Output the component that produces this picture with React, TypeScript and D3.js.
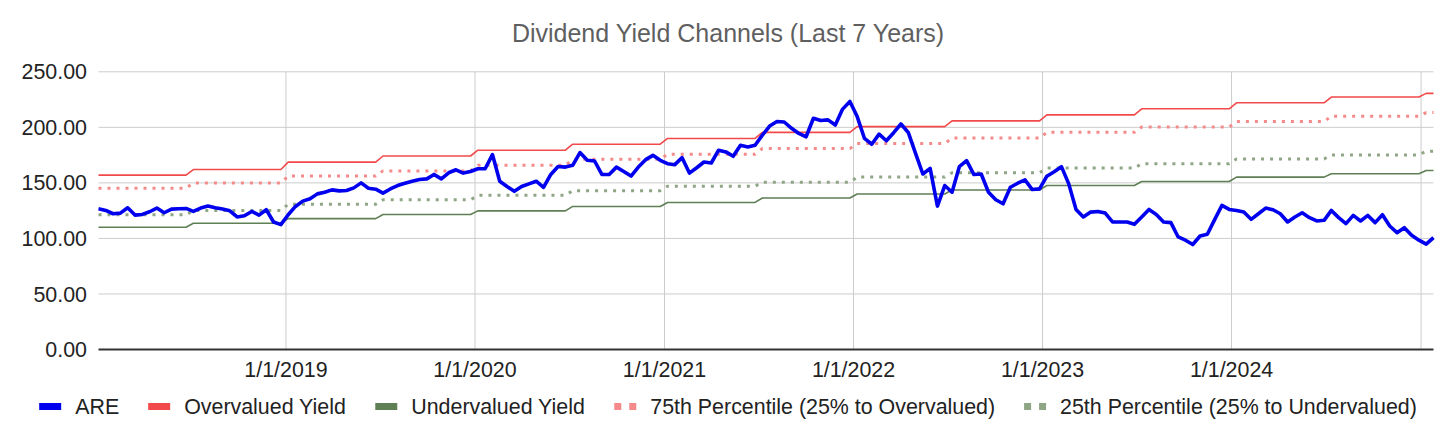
import * as d3 from "d3";

const W = 1456;
const H = 440;
const FONT = "'Liberation Sans', Arial, Helvetica, sans-serif";

// ARE yield series, sampled about every two weeks from early Jan 2018 to late Jan 2025
const firstSample = "2018-01-04";
const lastSample = "2025-01-25";
const areValues = [
  126.7, 125.2, 122.2, 122.8, 127.6, 121, 121.6, 124, 127.3, 123.1,
  126.4, 126.7, 127, 124.3, 127.3, 129.1, 127.6, 126.4, 124.9, 119.3,
  120.4, 124.3, 121, 125.8, 114.8, 112.4, 121.3, 128.8, 133.6, 135.7,
  140.1, 141.6, 143.7, 142.8, 143.1, 145.5, 150, 145.2, 144.3, 140.8,
  144.5, 147.6, 149.7, 151.5, 153, 153.6, 157.6, 153.6, 159.1, 161.8,
  158.8, 160.3, 162.7, 162.7, 175.5, 151.5, 146.7, 142.4, 146.7, 149.1,
  151.5, 146, 157.6, 164.8, 164.2, 165.8, 177.3, 170.3, 169.7, 157.6,
  157.6, 164.2, 160.3, 156.1, 164.2, 170.9, 174.8, 170.3, 167.3, 166.4,
  172.7, 158.8, 163.6, 168.8, 167.9, 179.4, 177.9, 173.9, 183.9, 182.4,
  183.9, 193, 201.2, 205.2, 204.8, 199.1, 194.5, 191.5, 208.2, 206.1,
  206.7, 202.1, 216.4, 223.3, 209.7, 190, 184.8, 193.9, 187.9, 195.2,
  203, 195.4, 176.6, 158, 163.1, 129.1, 147.6, 141.6, 164.6, 170,
  157.5, 158, 141.6, 134.8, 131.2, 146.1, 149.7, 152.7, 144, 144.6,
  156, 160.1, 164.6, 149.1, 126.1, 119.3, 123.7, 124.3, 122.8, 114.8,
  114.8, 114.8, 112.7, 119.3, 126.1, 121.6, 114.8, 114.2, 101.3, 98.4,
  94.5, 102.2, 103.7, 116.9, 129.7, 126.1, 125.2, 123.7, 117.2, 122.2,
  127.3, 125.8, 122.2, 114.8, 119.3, 123.1, 118.7, 115.7, 116.3, 125.2,
  118.7, 113.3, 120.7, 115.7, 120.7, 114.2, 121.3, 111.2, 105.2, 109.7,
  102.8, 98.4, 94.8, 100.7,
];

// half-year channel levels (dividend steps)
const periodStarts = [
  "2018-01-01", "2018-07-01", "2019-01-01", "2019-07-01", "2020-01-01",
  "2020-07-01", "2021-01-01", "2021-07-01", "2022-01-01", "2022-07-01",
  "2023-01-01", "2023-07-01", "2024-01-01", "2024-07-01", "2025-01-01",
];
const overvaluedLevels = [157, 162, 168.7, 174.2, 179.4, 184.8, 190, 195.5, 200.6, 205.8, 211.2, 216.7, 222.1, 227.3, 230.6];
const p75Levels = [145.2, 149.8, 156.2, 160.8, 165.8, 171.2, 175.8, 180.9, 185.5, 190.3, 195.5, 200.3, 205.2, 210, 213.3];
const p25Levels = [121.2, 125.1, 130.8, 134.8, 138.8, 143, 147, 150.6, 155.2, 159.1, 163.3, 167.3, 171.5, 175.2, 178.5];
const undervaluedLevels = [110, 113.7, 117.8, 121.5, 124.8, 128.8, 132.4, 136.4, 140, 143.6, 147.6, 151.2, 155.2, 158.2, 161.2];

const yTicks = [0, 50, 100, 150, 200, 250];
const yearGridlines = ["2019-01-01", "2020-01-01", "2021-01-01", "2022-01-01", "2023-01-01", "2024-01-01", "2025-01-01"];
const xTickLabels = ["1/1/2019", "1/1/2020", "1/1/2021", "1/1/2022", "1/1/2023", "1/1/2024"];

const seriesNames = [
  "ARE",
  "Overvalued Yield",
  "Undervalued Yield",
  "75th Percentile (25% to Overvalued)",
  "25th Percentile (25% to Undervalued)",
];
const seriesColors = ["#0000ee", "#f24a4a", "#5f7f55", "#f58a8a", "#8fa686"];
const seriesDotted = [false, false, false, true, true];

const parse = d3.timeParse("%Y-%m-%d");

function measure(text: string, size: number) {
  const c = document.createElement("canvas").getContext("2d");
  if (!c) return text.length * size * 0.5;
  c.font = `${size}px ${FONT}`;
  return c.measureText(text).width;
}

export default function App() {
  const margin = { left: 98.5, right: 1433.5, top: 71.8, bottom: 349.5 };
  const t0 = parse(firstSample)!;
  const t1 = parse(lastSample)!;

  const x = d3.scaleTime().domain([t0, t1]).range([margin.left, margin.right]);
  const y = d3.scaleLinear().domain([0, 250]).range([margin.bottom, margin.top]);

  const dates = areValues.map(
    (_, i) => new Date(t0.getTime() + (i * (t1.getTime() - t0.getTime())) / (areValues.length - 1))
  );
  const starts = periodStarts.map((s) => parse(s)!);
  const levelAt = (levels: number[], d: Date) => {
    let k = 0;
    starts.forEach((s, j) => {
      if (d >= s) k = j;
    });
    return levels[k];
  };

  const seriesData = [
    areValues,
    dates.map((d) => levelAt(overvaluedLevels, d)),
    dates.map((d) => levelAt(undervaluedLevels, d)),
    dates.map((d) => levelAt(p75Levels, d)),
    dates.map((d) => levelAt(p25Levels, d)),
  ];

  const line = d3
    .line<number>()
    .x((_, i) => x(dates[i]))
    .y((v) => y(v));

  const fmt = d3.format(".2f");

  // legend layout
  const labelFont = 21.4;
  const swatchW = 22;
  const textGap = 14;
  const itemGap = 29;
  const widths = seriesNames.map((n) => measure(n, labelFont));
  const total =
    widths.reduce((a, b) => a + b, 0) + seriesNames.length * (swatchW + textGap) + (seriesNames.length - 1) * itemGap;
  let cursor = W / 2 - total / 2;
  const legendItems = seriesNames.map((n, i) => {
    const item = { name: n, x: cursor, color: seriesColors[i], dotted: seriesDotted[i] };
    cursor += swatchW + textGap + widths[i] + itemGap;
    return item;
  });
  const legendY = 406.5;

  // draw order: channels first, ARE on top
  const drawOrder = [1, 2, 3, 4, 0];

  return (
    <svg
      width={W}
      height={H}
      style={{ position: "absolute", left: 0, top: 0, fontFamily: FONT }}
    >
      <rect width={W} height={H} fill="#fff" />

      <text x={W / 2} y={41.5} textAnchor="middle" fontSize={25} fill="#5f5f5f">
        Dividend Yield Channels (Last 7 Years)
      </text>

      {yTicks.map((t) => (
        <g key={t}>
          {t > 0 && (
            <line x1={margin.left} x2={margin.right} y1={y(t)} y2={y(t)} stroke="#cccccc" strokeWidth={1} />
          )}
          <text x={87} y={y(t) + 7.6} textAnchor="end" fontSize={labelFont} fill="#222">
            {fmt(t)}
          </text>
        </g>
      ))}

      {yearGridlines.map((g) => (
        <line
          key={g}
          x1={x(parse(g)!)}
          x2={x(parse(g)!)}
          y1={margin.top}
          y2={margin.bottom}
          stroke="#cccccc"
          strokeWidth={1}
        />
      ))}

      {xTickLabels.map((lbl, i) => (
        <text key={lbl} x={x(parse(yearGridlines[i])!)} y={377} textAnchor="middle" fontSize={labelFont} fill="#222">
          {lbl}
        </text>
      ))}

      {drawOrder.map((i) => (
        <path
          key={seriesNames[i]}
          d={line(seriesData[i]) ?? ""}
          fill="none"
          stroke={seriesColors[i]}
          strokeWidth={i === 0 ? 3.6 : seriesDotted[i] ? 3 : 1.6}
          strokeDasharray={seriesDotted[i] ? "3 6" : undefined}
          strokeLinejoin="round"
        />
      ))}

      <line x1={margin.left} x2={margin.right} y1={margin.bottom} y2={margin.bottom} stroke="#333" strokeWidth={1.8} />

      {legendItems.map((it) => (
        <g key={it.name}>
          {it.dotted ? (
            <line
              x1={it.x}
              x2={it.x + swatchW}
              y1={legendY}
              y2={legendY}
              stroke={it.color}
              strokeWidth={7}
              strokeDasharray="7 8"
            />
          ) : (
            <rect x={it.x} y={legendY - 3.5} width={swatchW} height={7} fill={it.color} />
          )}
          <text x={it.x + swatchW + textGap} y={legendY + 7.6} fontSize={labelFont} fill="#222">
            {it.name}
          </text>
        </g>
      ))}
    </svg>
  );
}
